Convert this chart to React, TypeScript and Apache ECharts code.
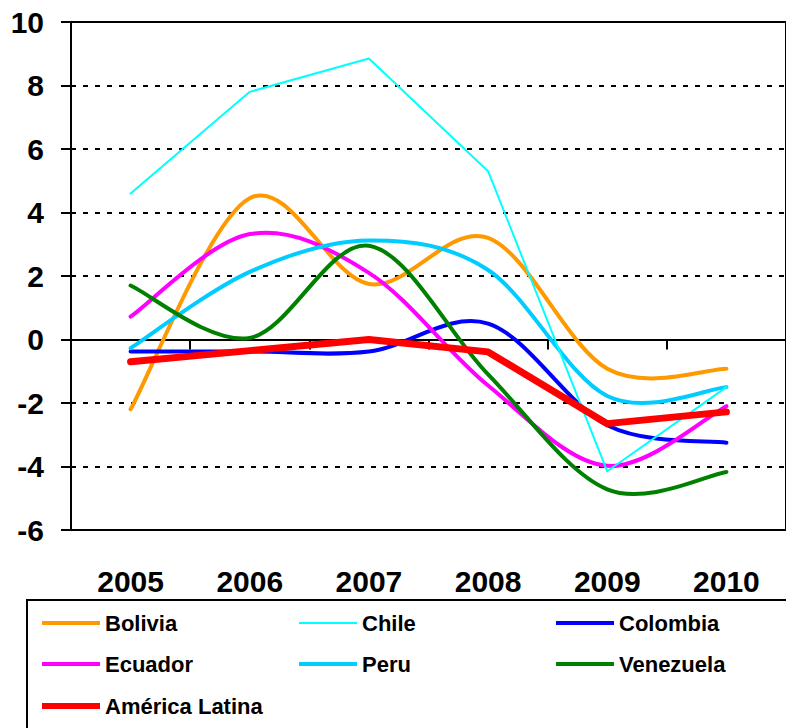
import React, { useEffect, useRef } from "react";
import * as echarts from "echarts";

const years = ["2005", "2006", "2007", "2008", "2009", "2010"];
const bolivia = [-2.2, 4.45, 1.75, 3.2, -0.92, -0.92];
const chile = [4.6, 7.8, 8.85, 5.3, -4.15, -1.5];
const colombia = [-0.38, -0.38, -0.38, 0.5, -2.7, -3.25];
const ecuador = [0.72, 3.32, 2.1, -1.45, -3.98, -2.1];
const peru = [-0.27, 2.13, 3.12, 2.19, -1.78, -1.5];
const venezuela = [1.7, 0.05, 2.95, -1.1, -4.72, -4.17];
const americaLatina = [-0.7, -0.35, 0.0, -0.39, -2.65, -2.28];
const yMin = -6;
const yMax = 10;
const yStep = 2;

const FONT = "'Liberation Sans', Arial, sans-serif";

function smoothSeries(name: string, values: number[], color: string, width: number) {
  return {
    type: "custom",
    name,
    xAxisIndex: 0,
    yAxisIndex: 0,
    itemStyle: { color },
    encode: { x: 0, y: 1 },
    data: values.map((v, i) => [i, v]),
    renderItem: (params: any, api: any) => {
      if (params.dataIndex !== 0) return null;
      const pts = values.map((v, i) => api.coord([i, v]));
      let d = `M${pts[0][0]},${pts[0][1]}`;
      for (let i = 0; i < pts.length - 1; i++) {
        const p0 = pts[i - 1] || pts[i];
        const p1 = pts[i];
        const p2 = pts[i + 1];
        const p3 = pts[i + 2] || pts[i + 1];
        const c1x = p1[0] + (p2[0] - p0[0]) / 6;
        const c1y = p1[1] + (p2[1] - p0[1]) / 6;
        const c2x = p2[0] - (p3[0] - p1[0]) / 6;
        const c2y = p2[1] - (p3[1] - p1[1]) / 6;
        d += ` C${c1x},${c1y} ${c2x},${c2y} ${p2[0]},${p2[1]}`;
      }
      return {
        type: "path",
        shape: { pathData: d },
        style: { fill: "none", stroke: color, lineWidth: width, lineJoin: "round", lineCap: "round" },
      };
    },
  };
}

function straightSeries(name: string, values: number[], color: string, width: number) {
  return {
    type: "line",
    name,
    xAxisIndex: 0,
    yAxisIndex: 0,
    data: values,
    symbol: "none",
    smooth: false,
    itemStyle: { color },
    lineStyle: { color, width, join: "round", cap: "round" },
  };
}

const legendItems = [
  { name: "Bolivia", color: "#FF9900", h: 4, left: 42, cy: 623 },
  { name: "Chile", color: "#00FFFF", h: 2, left: 299, cy: 623 },
  { name: "Colombia", color: "#0000FF", h: 4, left: 556, cy: 623 },
  { name: "Ecuador", color: "#FF00FF", h: 4, left: 42, cy: 664 },
  { name: "Peru", color: "#00CCFF", h: 4, left: 299, cy: 664 },
  { name: "Venezuela", color: "#008000", h: 4, left: 556, cy: 664 },
  { name: "América Latina", color: "#FF0000", h: 6, left: 42, cy: 706 },
];

export default function App() {
  const ref = useRef<HTMLDivElement>(null);
  useEffect(() => {
    if (!ref.current) return;
    const chart = echarts.init(ref.current, null, { renderer: "svg" });
    const labelStyle = { fontFamily: FONT, fontWeight: "bold" as const, fontSize: 30, color: "#000" };
    chart.setOption({
      animation: false,
      backgroundColor: "#fff",
      grid: {
        left: 71,
        right: -5,
        top: 22,
        bottom: 198,
        show: true,
        borderColor: "#000",
        borderWidth: 2,
        backgroundColor: "transparent",
      },
      xAxis: [
        {
          type: "category",
          data: years,
          position: "bottom",
          boundaryGap: true,
          axisLine: { show: false, onZero: false },
          axisTick: { show: false },
          axisLabel: { ...labelStyle, margin: 36 },
          splitLine: { show: false },
        },
        {
          type: "category",
          data: years,
          position: "bottom",
          boundaryGap: true,
          axisLine: { show: true, onZero: true, lineStyle: { color: "#000", width: 2 } },
          axisTick: { show: true, length: 10, lineStyle: { color: "#000", width: 2 } },
          axisLabel: { show: false },
          splitLine: { show: false },
        },
      ],
      yAxis: {
        type: "value",
        min: yMin,
        max: yMax,
        interval: yStep,
        axisLine: { show: true, lineStyle: { color: "#000", width: 2 } },
        axisTick: { show: true, length: 10, lineStyle: { color: "#000", width: 2 } },
        axisLabel: { ...labelStyle, margin: 27 },
        splitLine: { show: true, lineStyle: { color: "#000", width: 2, type: [5, 7] } },
      },
      legend: legendItems.map((it) => ({
        show: true,
        left: it.left,
        top: it.cy - 11,
        padding: 0,
        itemWidth: 58,
        itemHeight: it.h,
        itemGap: 0,
        icon: "rect",
        selectedMode: false,
        data: [{ name: it.name, icon: "rect", itemStyle: { color: it.color } }],
        textStyle: { fontFamily: FONT, fontWeight: "bold", fontSize: 22, lineHeight: 22, color: "#000", padding: [0, 0, 0, 0] },
      })),
      graphic: [
        {
          type: "rect",
          shape: { x: 27, y: 600, width: 800, height: 200 },
          style: { fill: "none", stroke: "#000", lineWidth: 2 },
          silent: true,
        },
      ],
      series: [
        smoothSeries("Bolivia", bolivia, "#FF9900", 4),
        straightSeries("Chile", chile, "#00FFFF", 2),
        smoothSeries("Colombia", colombia, "#0000FF", 4),
        smoothSeries("Ecuador", ecuador, "#FF00FF", 4),
        smoothSeries("Peru", peru, "#00CCFF", 4),
        smoothSeries("Venezuela", venezuela, "#008000", 4),
        straightSeries("América Latina", americaLatina, "#FF0000", 7),
      ],
    });
    return () => chart.dispose();
  }, []);
  return (
    <div
      ref={ref}
      style={{ position: "fixed", left: 0, top: 0, width: 786, height: 728, background: "#fff" }}
    />
  );
}
